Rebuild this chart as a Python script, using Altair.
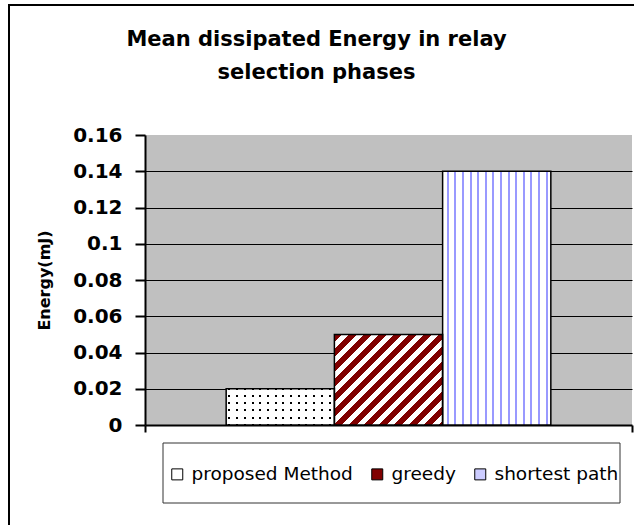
import math

import altair as alt
import pandas as pd

# ---- data -------------------------------------------------------------
series = ["proposed Method", "greedy", "shortest path"]
energy = [0.02, 0.05, 0.14]
y_ticks = [0, 0.02, 0.04, 0.06, 0.08, 0.1, 0.12, 0.14, 0.16]
legend_fill = ["#ffffff", "#800000", "#ccccff"]

title_lines = ["Mean dissipated Energy in relay", "selection phases"]
y_title = "Energy(mJ)"

# ---- geometry / style -------------------------------------------------
FONT = "DejaVu Sans"
W, H = 487, 290            # plot area in px
Y_MAX = 0.16
PAD_OUTER = 0.75
GRAY = "#c0c0c0"

df = pd.DataFrame({"series": series, "energy": energy})

# pixel size of one bar, used to size the fill patterns
bar_w = W / (len(series) + 2 * PAD_OUTER)
bar_h = {s: v / Y_MAX * H for s, v in zip(series, energy)}


def stripe_stops(periods, on_frac, on, off, phase=0.0):
    """Hard-edged repeating stops: `on` bands of width on_frac per period."""
    stops = [{"offset": 0.0, "color": off}]
    for i in range(-1, int(math.ceil(periods)) + 1):
        a = (i + phase) / periods
        b = a + on_frac / periods
        a, b = max(a, 0.0), min(b, 1.0)
        if b <= 0 or a >= 1 or b <= a:
            continue
        stops += [
            {"offset": a, "color": off},
            {"offset": a, "color": on},
            {"offset": b, "color": on},
            {"offset": b, "color": off},
        ]
    stops.append({"offset": 1.0, "color": off})
    return stops


def linear(x2, y2, stops):
    return {"gradient": "linear", "x1": 0, "y1": 0, "x2": x2, "y2": y2, "stops": stops}


# vertical lilac lines (shortest path)
vert_fill = linear(1, 0, stripe_stops(bar_w / 7.6, 2.0 / 7.6, "#9999ff", "#ffffff", phase=0.55))

# 45-degree maroon stripes (greedy); direction chosen so the stripes run at 45 deg in px
r = bar_h["greedy"] / bar_w
k = (1 + r) / (1 + r * r)
diag_fill = linear(k, k * r, stripe_stops((bar_w + bar_h["greedy"]) / 15.0, 0.5, "#800000", "#ffffff"))

# dotted fill (proposed Method): black columns masked by white rows
dot_cols = linear(1, 0, stripe_stops(bar_w / 7.7, 2.0 / 7.7, "#000000", "rgba(0,0,0,0)", phase=0.3))
dot_mask = linear(0, 1, stripe_stops(bar_h["proposed Method"] / 7.2, 1 - 2.0 / 7.2,
                                     "#ffffff", "rgba(255,255,255,0)", phase=0.15))

# ---- encodings --------------------------------------------------------
y_axis = alt.Axis(
    values=y_ticks, format="~g",
    labelFont=FONT, labelFontSize=20, labelFontWeight="bold", labelColor="black",
    labelPadding=13,
    tickSize=10, tickWidth=2, tickColor="black",
    domainColor="black", domainWidth=2,
    gridColor={"condition": {"test": "datum.value >= 0.159 || datum.value <= 0",
                             "value": "transparent"},
               "value": "black"},
    gridWidth=1,
    title=y_title, titleFont=FONT, titleFontSize=16, titleFontWeight="bold",
    titleColor="black", titlePadding=20,
)

x_axis = alt.Axis(
    labels=False, title=None, tickBand="extent", grid=False,
    domainColor="black", domainWidth=2,
    tickColor="black", tickWidth=2, tickSize=7,
)

enc = dict(
    x=alt.X("group:N", scale=alt.Scale(paddingInner=0, paddingOuter=0), axis=x_axis),
    xOffset=alt.XOffset("series:N",
                        scale=alt.Scale(domain=series, paddingInner=0, paddingOuter=PAD_OUTER)),
    y=alt.Y("energy:Q", scale=alt.Scale(domain=[0, Y_MAX], nice=False, zero=True), axis=y_axis),
)

base = alt.Chart(df).transform_calculate(group="'all'")

legend = alt.Legend(
    title=None, orient="none", legendX=23, legendY=330, direction="horizontal",
    symbolType="square", symbolSize=121, symbolStrokeColor="black", symbolStrokeWidth=1,
    symbolOpacity=1,
    labelFont=FONT, labelFontSize=18.5, labelColor="black", labelOffset=5, labelLimit=400,
    columnPadding=15, padding=0,
)

under = base.mark_bar(opacity=1).encode(
    **enc,
    color=alt.Color("series:N", scale=alt.Scale(domain=series, range=legend_fill), legend=legend),
)


def only(name):
    return base.transform_filter(alt.datum.series == name)


dots_bg = only(series[0]).mark_bar(fill="#ffffff").encode(**enc)
dots_c = only(series[0]).mark_bar(fill=dot_cols).encode(**enc)
dots_m = only(series[0]).mark_bar(fill=dot_mask).encode(**enc)
greedy = only(series[1]).mark_bar(fill=diag_fill).encode(**enc)
shortest = only(series[2]).mark_bar(fill=vert_fill).encode(**enc)
outline = base.mark_bar(fill="transparent", stroke="black", strokeWidth=1.5).encode(**enc)

# ---- frame and legend box --------------------------------------------
deco = alt.Chart(alt.Data(values=[{}]))
frame = deco.mark_rect(fill="transparent", stroke="black", strokeWidth=2).encode(
    x=alt.value(-136), x2=alt.value(W + 40), y=alt.value(-130), y2=alt.value(H + 140)
)
legend_box = deco.mark_rect(fill="transparent", stroke="#333333", strokeWidth=1).encode(
    x=alt.value(18), x2=alt.value(475), y=alt.value(308), y2=alt.value(368)
)

chart = (
    alt.layer(frame, under, dots_bg, dots_c, dots_m, greedy, shortest, outline, legend_box)
    .properties(
        width=W, height=H,
        padding={"left": 145, "top": 135, "right": 2, "bottom": 100},
        autosize=alt.AutoSizeParams(type="none"),
        background="white",
        title=alt.TitleParams(
            text=title_lines, font=FONT, fontSize=21, fontWeight="bold", color="black",
            anchor="middle", frame="group", dx=-72, dy=79, offset=0, lineHeight=33,
        ),
    )
    .configure_view(fill=GRAY, strokeWidth=0)
)

chart.save("out.html", embed_options={"renderer": "svg", "actions": False})
